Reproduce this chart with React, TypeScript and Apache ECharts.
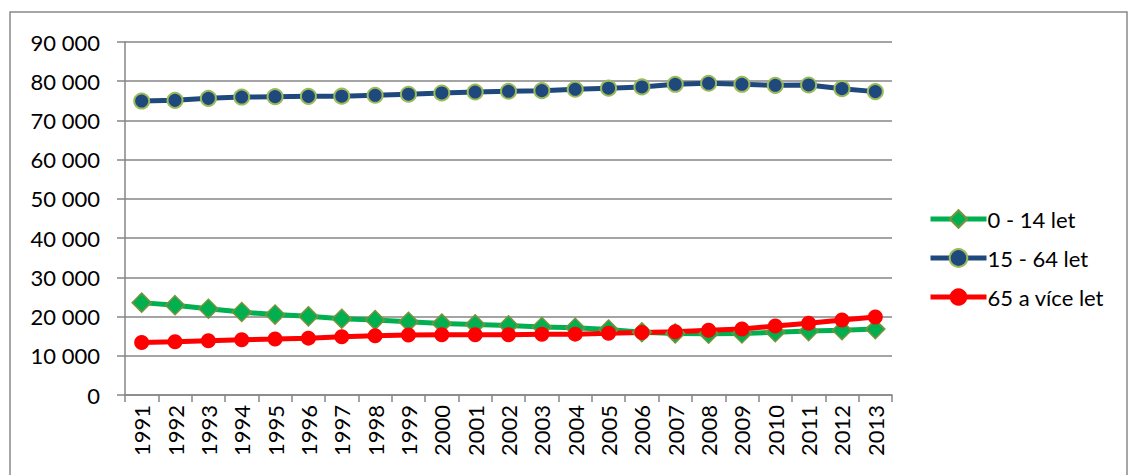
import React, { useEffect, useRef } from "react";
import * as echarts from "echarts";

const years = ["1991","1992","1993","1994","1995","1996","1997","1998","1999","2000","2001","2002","2003","2004","2005","2006","2007","2008","2009","2010","2011","2012","2013"];
const age0to14 = [23550,22900,22000,21150,20500,20050,19450,19100,18650,18200,18000,17750,17350,17150,16700,16000,15700,15600,15700,16000,16300,16500,16800];
const age15to64 = [74950,75120,75640,75970,76060,76150,76180,76420,76680,77000,77250,77440,77600,77950,78220,78540,79220,79480,79220,78960,79040,78100,77350];
const age65plus = [13380,13560,13820,14070,14250,14500,14830,15090,15270,15340,15380,15380,15480,15520,15760,15930,16110,16520,16800,17600,18300,19150,19900];
const seriesNames = ["0 - 14 let", "15 - 64 let", "65 a více let"];

const fmt = (v: number) => String(v).replace(/\B(?=(\d{3})+(?!\d))/g, " ");
const FONT = "Lato";

export default function App() {
  const ref = useRef<HTMLDivElement>(null);
  useEffect(() => {
    document.body.style.margin = "0";
    const chart = echarts.init(ref.current!, null, { renderer: "svg" });
    chart.setOption({
      animation: false,
      backgroundColor: "#ffffff",
      textStyle: { fontFamily: FONT },
      graphic: [
        {
          type: "rect",
          shape: { x: 10, y: 12, width: 1117, height: 500 },
          style: { fill: "none", stroke: "#898989", lineWidth: 1.5 },
          silent: true,
        },
      ],
      grid: { left: 125, right: 239, top: 42, bottom: 80, containLabel: false },
      legend: {
        orient: "vertical",
        left: 923,
        top: 203,
        itemWidth: 56,
        itemHeight: 22,
        itemGap: 17,
        lineStyle: { width: 5 },
        textStyle: { fontFamily: FONT, fontSize: 22, color: "#000", lineHeight: 22, padding: [0, 0, 0, -4] },
        data: seriesNames,
      },
      xAxis: {
        type: "category",
        data: years,
        boundaryGap: true,
        axisLine: { lineStyle: { color: "#868686", width: 1.5 } },
        axisTick: { show: true, length: 7, alignWithLabel: false, lineStyle: { color: "#868686", width: 1.5 } },
        axisLabel: { rotate: 90, margin: 10, fontSize: 22, color: "#000", fontFamily: FONT, interval: 0 },
      },
      yAxis: {
        type: "value",
        min: 0,
        max: 90000,
        interval: 10000,
        axisLine: { show: true, lineStyle: { color: "#868686", width: 1.5 } },
        axisTick: { show: true, length: 8, lineStyle: { color: "#868686", width: 1.5 } },
        splitLine: { show: true, lineStyle: { color: "#868686", width: 1.5 } },
        axisLabel: { formatter: fmt, margin: 25, fontSize: 22, color: "#000", fontFamily: FONT },
      },
      series: [
        {
          name: seriesNames[0],
          type: "line",
          data: age0to14,
          symbol: "diamond",
          symbolSize: 19,
          showAllSymbol: true,
          lineStyle: { color: "#00B050", width: 5 },
          itemStyle: { color: "#00B050", borderColor: "#77933C", borderWidth: 1.5 },
        },
        {
          name: seriesNames[1],
          type: "line",
          data: age15to64,
          symbol: "circle",
          symbolSize: 15,
          showAllSymbol: true,
          lineStyle: { color: "#1F497D", width: 5 },
          itemStyle: { color: "#1F497D", borderColor: "#9BBB59", borderWidth: 2 },
        },
        {
          name: seriesNames[2],
          type: "line",
          data: age65plus,
          symbol: "circle",
          symbolSize: 15,
          showAllSymbol: true,
          lineStyle: { color: "#FF0000", width: 5 },
          itemStyle: { color: "#FF0000", borderColor: "#FF0000", borderWidth: 0 },
        },
      ],
    });
    return () => chart.dispose();
  }, []);
  return <div ref={ref} style={{ width: 1131, height: 475 }} />;
}
